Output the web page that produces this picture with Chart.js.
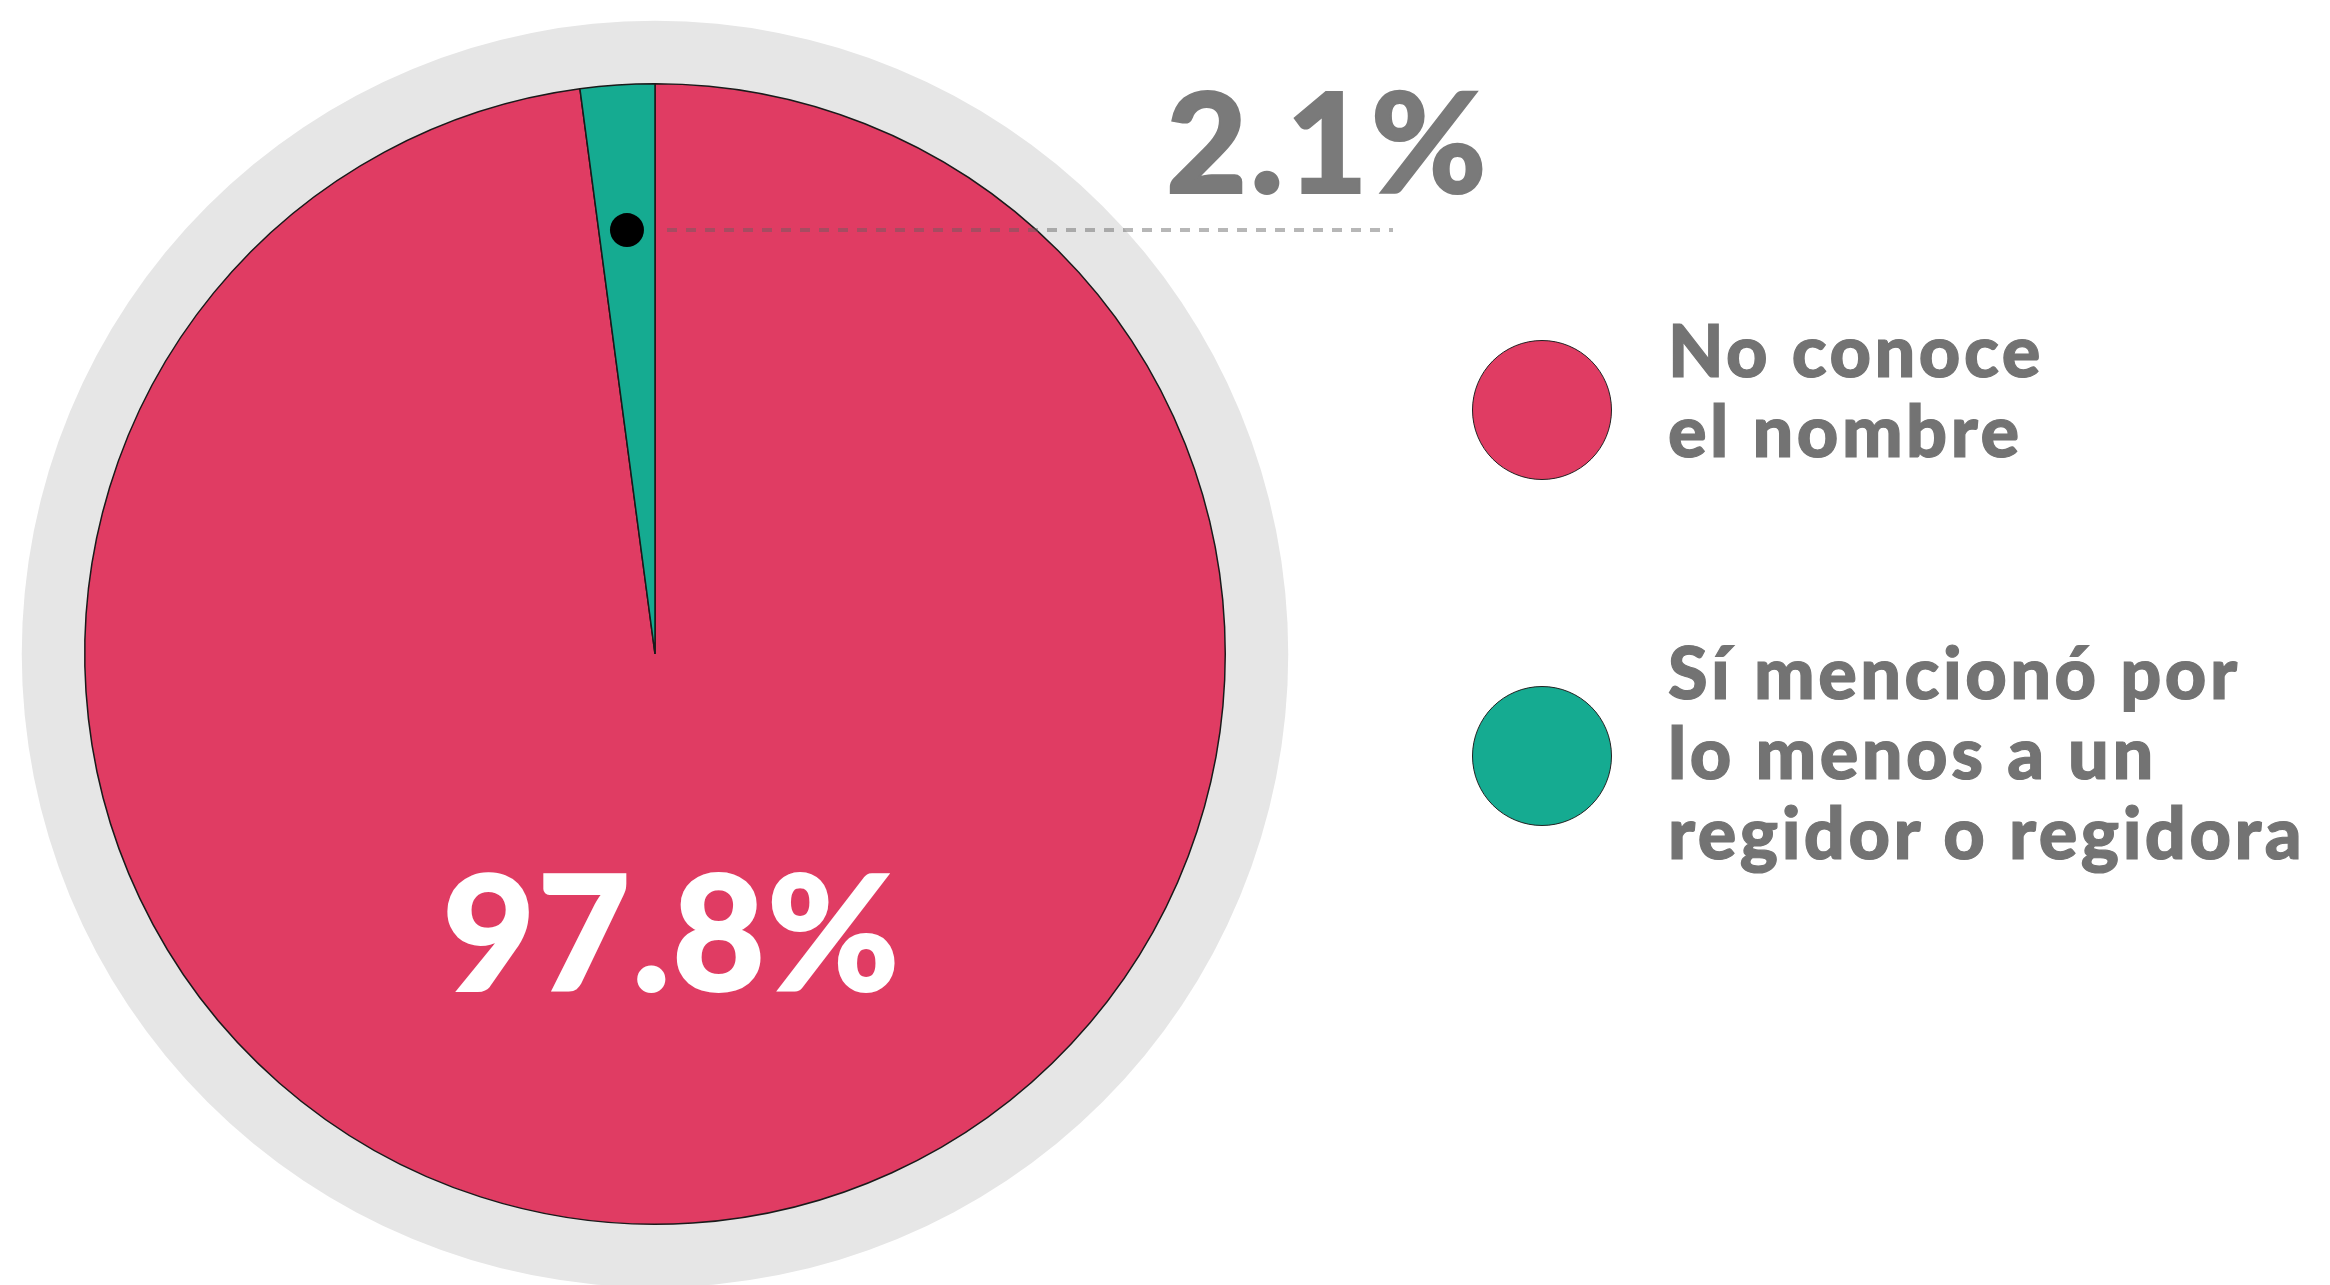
<!DOCTYPE html>
<html>
<head>
<meta charset="utf-8">
<script src="https://cdn.jsdelivr.net/npm/chart.js@4.4.1/dist/chart.umd.min.js"></script>
<style>
  html, body { margin:0; padding:0; background:#fff; }
  body { width:2330px; height:1285px; position:relative; overflow:hidden; font-family:Lato, 'Open Sans', sans-serif; }
  #pie { position:absolute; left:0; top:0; }
  .val { position:absolute; font-weight:900; line-height:1; white-space:nowrap; }
  #lblSmall { left:1166px; top:69px; font-size:140px; color:#7a7a7a; letter-spacing:3px; -webkit-text-stroke:2px #7a7a7a; }
  #lblBig { left:672px; top:849px; font-size:160px; color:#fff; transform:translateX(-50%); letter-spacing:2px; -webkit-text-stroke:2px #fff; }
  .legend-item { position:absolute; left:1472px; }
  .legend-dot { position:absolute; left:0; width:138px; height:138px; border-radius:50%; border:1.5px solid #222; }
  .legend-text { position:absolute; left:196px; font-size:72px; line-height:80px; font-weight:900; color:#737373; white-space:nowrap; letter-spacing:3.5px; -webkit-text-stroke:1.2px #737373; }
</style>
</head>
<body>
<canvas id="pie" width="2330" height="1285"></canvas>
<div id="lblSmall" class="val"></div>
<div id="lblBig" class="val"></div>
<div id="legend"></div>
<script>
// conocimiento de regidores
const categories = ['No conoce el nombre', 'Sí mencionó por lo menos a un regidor o regidora'];
const legendLines = [['No conoce', 'el nombre'], ['Sí mencionó por', 'lo menos a un', 'regidor o regidora']];
const values = [97.8, 2.1];
const colors = ['#e03c63', '#15ab91'];

// anillo gris detrás del pastel
const ringPlugin = {
  id: 'ring',
  beforeDatasetsDraw(chart) {
    const arc = chart.getDatasetMeta(0).data[0];
    if (!arc) return;
    const ctx = chart.ctx;
    ctx.save();
    ctx.beginPath();
    ctx.arc(arc.x, arc.y, arc.outerRadius + 63, 0, Math.PI * 2);
    ctx.fillStyle = '#e6e6e6';
    ctx.fill();
    ctx.restore();
  }
};

// punto negro + línea punteada hacia la etiqueta del 2.1%
const pointerPlugin = {
  id: 'pointer',
  afterDatasetsDraw(chart) {
    const arc = chart.getDatasetMeta(0).data[1];
    if (!arc) return;
    const ctx = chart.ctx;
    const mid = (arc.startAngle + arc.endAngle) / 2;
    const r = arc.outerRadius * 0.745;
    const px = arc.x + Math.cos(mid) * r;
    const py = arc.y + Math.sin(mid) * r;
    ctx.save();
    ctx.setLineDash([10, 9]);
    ctx.lineWidth = 4;
    ctx.strokeStyle = 'rgba(95,95,95,0.45)';
    ctx.beginPath();
    ctx.moveTo(arc.x + 12, py);
    ctx.lineTo(arc.x + 738, py);
    ctx.stroke();
    ctx.setLineDash([]);
    ctx.beginPath();
    ctx.arc(px, py, 17, 0, Math.PI * 2);
    ctx.fillStyle = '#000';
    ctx.fill();
    ctx.restore();
  }
};

new Chart(document.getElementById('pie'), {
  type: 'pie',
  data: {
    labels: categories,
    datasets: [{
      data: values,
      backgroundColor: colors,
      borderColor: '#1a1a1a',
      borderWidth: 1.5
    }]
  },
  options: {
    responsive: false,
    animation: false,
    layout: { padding: { left: 84, right: 1104, top: 83, bottom: 60 } },
    plugins: { legend: { display: false }, tooltip: { enabled: false } }
  },
  plugins: [ringPlugin, pointerPlugin]
});

document.getElementById('lblSmall').textContent = values[1].toFixed(1) + '%';
document.getElementById('lblBig').textContent = values[0].toFixed(1) + '%';

// leyenda
const legendTops = [340, 686];
const textTops = [309, 631];
document.getElementById('legend').innerHTML = categories.map((c, i) => `
  <div class="legend-item" style="top:0">
    <div class="legend-dot" style="top:${legendTops[i]}px;background:${colors[i]}"></div>
    <div class="legend-text" style="top:${textTops[i]}px" title="${c}">${legendLines[i].join('<br>')}</div>
  </div>`).join('');
</script>
</body>
</html>
